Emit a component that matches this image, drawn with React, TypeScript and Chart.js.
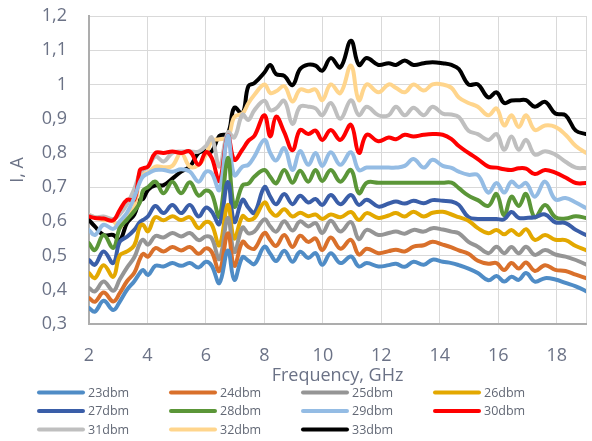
import React, { useEffect, useRef } from 'react';
import { Chart, registerables } from 'chart.js';

Chart.register(...registerables);

const freq = [2.0, 2.2, 2.5, 2.83, 3.05, 3.3, 3.55, 3.74, 3.85, 4.02, 4.27, 4.55, 4.85, 5.15, 5.45, 5.75, 6.0, 6.2, 6.46, 6.75, 6.97, 7.25, 7.45, 7.66, 8.0, 8.2, 8.4, 8.68, 8.96, 9.22, 9.5, 9.75, 9.98, 10.27, 10.6, 10.96, 11.23, 11.5, 11.9, 12.25, 12.5, 12.8, 13.1, 13.45, 13.75, 14.1, 14.4, 14.65, 14.98, 15.3, 15.66, 15.94, 16.2, 16.45, 16.7, 16.95, 17.25, 17.6, 17.95, 18.3, 18.65, 19.0];

const dbm23 = [0.347, 0.336, 0.368, 0.341, 0.365, 0.40, 0.425, 0.449, 0.458, 0.443, 0.47, 0.468, 0.478, 0.47, 0.478, 0.465, 0.482, 0.47, 0.42, 0.515, 0.429, 0.495, 0.485, 0.475, 0.526, 0.505, 0.484, 0.514, 0.482, 0.511, 0.493, 0.507, 0.473, 0.507, 0.478, 0.497, 0.468, 0.478, 0.468, 0.472, 0.476, 0.467, 0.482, 0.473, 0.488, 0.482, 0.478, 0.472, 0.462, 0.449, 0.428, 0.44, 0.424, 0.438, 0.429, 0.449, 0.424, 0.434, 0.43, 0.42, 0.41, 0.396];
const dbm24 = [0.376, 0.365, 0.392, 0.366, 0.39, 0.425, 0.45, 0.49, 0.505, 0.497, 0.522, 0.512, 0.525, 0.515, 0.525, 0.505, 0.521, 0.51, 0.455, 0.565, 0.47, 0.54, 0.525, 0.52, 0.566, 0.545, 0.528, 0.56, 0.525, 0.558, 0.54, 0.55, 0.516, 0.553, 0.52, 0.546, 0.503, 0.52, 0.507, 0.513, 0.517, 0.512, 0.526, 0.53, 0.54, 0.532, 0.524, 0.515, 0.505, 0.485, 0.476, 0.478, 0.458, 0.478, 0.462, 0.48, 0.455, 0.472, 0.458, 0.455, 0.444, 0.434];
const dbm25 = [0.405, 0.395, 0.424, 0.397, 0.43, 0.465, 0.495, 0.536, 0.546, 0.532, 0.557, 0.553, 0.566, 0.556, 0.566, 0.545, 0.556, 0.55, 0.49, 0.61, 0.51, 0.582, 0.565, 0.57, 0.606, 0.585, 0.57, 0.6, 0.573, 0.6, 0.585, 0.595, 0.566, 0.602, 0.57, 0.598, 0.548, 0.575, 0.56, 0.566, 0.57, 0.564, 0.575, 0.57, 0.58, 0.576, 0.57, 0.565, 0.54, 0.526, 0.507, 0.526, 0.507, 0.525, 0.507, 0.526, 0.502, 0.516, 0.503, 0.497, 0.487, 0.474];
const dbm26 = [0.449, 0.434, 0.472, 0.438, 0.5, 0.512, 0.53, 0.585, 0.59, 0.571, 0.612, 0.603, 0.615, 0.604, 0.612, 0.58, 0.598, 0.59, 0.53, 0.648, 0.55, 0.615, 0.604, 0.61, 0.655, 0.63, 0.616, 0.635, 0.614, 0.625, 0.615, 0.62, 0.607, 0.62, 0.612, 0.627, 0.604, 0.624, 0.61, 0.617, 0.624, 0.614, 0.628, 0.614, 0.625, 0.628, 0.62, 0.612, 0.602, 0.58, 0.565, 0.575, 0.562, 0.575, 0.56, 0.577, 0.546, 0.56, 0.546, 0.545, 0.528, 0.516];
const dbm27 = [0.487, 0.473, 0.512, 0.478, 0.54, 0.555, 0.575, 0.598, 0.604, 0.615, 0.645, 0.624, 0.648, 0.624, 0.648, 0.614, 0.64, 0.628, 0.592, 0.715, 0.598, 0.663, 0.64, 0.625, 0.70, 0.672, 0.65, 0.68, 0.65, 0.675, 0.655, 0.665, 0.648, 0.677, 0.65, 0.677, 0.648, 0.663, 0.643, 0.652, 0.658, 0.652, 0.66, 0.653, 0.662, 0.66, 0.658, 0.648, 0.612, 0.607, 0.607, 0.607, 0.606, 0.627, 0.61, 0.61, 0.612, 0.62, 0.597, 0.595, 0.575, 0.56];
const dbm28 = [0.536, 0.516, 0.56, 0.522, 0.58, 0.605, 0.63, 0.655, 0.69, 0.70, 0.716, 0.682, 0.716, 0.682, 0.714, 0.675, 0.69, 0.68, 0.614, 0.785, 0.643, 0.705, 0.71, 0.731, 0.75, 0.73, 0.711, 0.75, 0.713, 0.748, 0.716, 0.75, 0.718, 0.75, 0.716, 0.75, 0.682, 0.713, 0.713, 0.713, 0.713, 0.713, 0.713, 0.713, 0.713, 0.713, 0.713, 0.697, 0.675, 0.662, 0.645, 0.68, 0.618, 0.672, 0.645, 0.68, 0.612, 0.648, 0.612, 0.608, 0.615, 0.61];
const dbm29 = [0.575, 0.56, 0.59, 0.578, 0.60, 0.625, 0.67, 0.715, 0.731, 0.74, 0.75, 0.75, 0.745, 0.752, 0.745, 0.716, 0.745, 0.74, 0.692, 0.85, 0.735, 0.76, 0.765, 0.79, 0.838, 0.8, 0.778, 0.814, 0.75, 0.805, 0.765, 0.8, 0.762, 0.802, 0.765, 0.802, 0.75, 0.757, 0.757, 0.757, 0.757, 0.762, 0.782, 0.757, 0.78, 0.762, 0.756, 0.745, 0.736, 0.735, 0.684, 0.712, 0.684, 0.716, 0.70, 0.712, 0.672, 0.716, 0.664, 0.668, 0.655, 0.639];
const dbm30 = [0.614, 0.61, 0.608, 0.603, 0.633, 0.663, 0.663, 0.75, 0.755, 0.76, 0.8, 0.8, 0.804, 0.8, 0.804, 0.765, 0.802, 0.785, 0.718, 0.85, 0.78, 0.81, 0.835, 0.85, 0.91, 0.848, 0.906, 0.86, 0.808, 0.867, 0.855, 0.865, 0.838, 0.867, 0.838, 0.882, 0.80, 0.853, 0.834, 0.845, 0.84, 0.853, 0.848, 0.853, 0.855, 0.853, 0.84, 0.82, 0.80, 0.782, 0.76, 0.757, 0.752, 0.75, 0.755, 0.754, 0.738, 0.75, 0.742, 0.728, 0.712, 0.712];
const dbm31 = [0.619, 0.612, 0.614, 0.607, 0.62, 0.65, 0.695, 0.74, 0.75, 0.758, 0.79, 0.775, 0.80, 0.804, 0.804, 0.804, 0.82, 0.845, 0.76, 0.86, 0.845, 0.912, 0.896, 0.925, 0.952, 0.925, 0.93, 0.952, 0.885, 0.935, 0.935, 0.93, 0.91, 0.946, 0.90, 0.954, 0.91, 0.935, 0.91, 0.91, 0.935, 0.91, 0.932, 0.91, 0.935, 0.915, 0.912, 0.905, 0.865, 0.855, 0.838, 0.855, 0.809, 0.848, 0.809, 0.838, 0.795, 0.805, 0.795, 0.774, 0.757, 0.756];
const dbm32 = [0.619, 0.612, 0.604, 0.60, 0.58, 0.62, 0.64, 0.735, 0.74, 0.742, 0.76, 0.758, 0.762, 0.80, 0.76, 0.765, 0.795, 0.835, 0.84, 0.845, 0.905, 0.915, 0.945, 0.97, 1.0, 0.975, 0.98, 0.995, 0.95, 0.985, 0.98, 0.985, 0.954, 1.0, 0.975, 1.055, 0.954, 1.0, 0.977, 1.0, 0.99, 0.977, 1.0, 0.982, 1.0, 1.0, 0.99, 0.962, 0.946, 0.935, 0.91, 0.93, 0.88, 0.91, 0.876, 0.91, 0.867, 0.88, 0.876, 0.853, 0.82, 0.80];
const dbm33 = [0.604, 0.585, 0.56, 0.56, 0.545, 0.595, 0.62, 0.663, 0.665, 0.692, 0.705, 0.706, 0.725, 0.745, 0.76, 0.80, 0.806, 0.804, 0.85, 0.857, 0.932, 0.915, 0.995, 1.004, 1.035, 1.057, 1.03, 1.025, 0.998, 1.045, 1.058, 1.055, 1.04, 1.077, 1.05, 1.128, 1.057, 1.077, 1.057, 1.062, 1.057, 1.07, 1.057, 1.062, 1.065, 1.062, 1.057, 1.045, 1.0, 1.0, 0.962, 0.977, 0.946, 0.953, 0.954, 0.954, 0.935, 0.949, 0.915, 0.91, 0.865, 0.855];

const seriesNames = ['23dbm', '24dbm', '25dbm', '26dbm', '27dbm', '28dbm', '29dbm', '30dbm', '31dbm', '32dbm', '33dbm'];
const seriesColors = ['#4f8cc6', '#d9702b', '#959595', '#e3a800', '#3a5ea8', '#5b9638', '#94bce4', '#ff0000', '#bfbfbf', '#ffd58c', '#000000'];

const xTickValues = [2, 4, 6, 8, 10, 12, 14, 16, 18, 19];
const yTickValues = [0.3, 0.4, 0.5, 0.6, 0.7, 0.8, 0.9, 1.0, 1.1, 1.2];

const FONT = '"Open Sans", "Noto Sans", sans-serif';
const TEXT = '#6b7286';

export default function App() {
  const ref = useRef<HTMLCanvasElement>(null);

  useEffect(() => {
    document.body.style.margin = '0';
    const series = [dbm23, dbm24, dbm25, dbm26, dbm27, dbm28, dbm29, dbm30, dbm31, dbm32, dbm33];

    const legendPlugin = {
      id: 'gridLegend',
      afterDraw(chart: any) {
        const ctx = chart.ctx;
        const colX = [37, 169, 301, 433];
        const rowY = [392.5, 411, 429.5];
        ctx.save();
        chart.data.datasets.forEach((ds: any, i: number) => {
          const x = colX[i % 4];
          const y = rowY[Math.floor(i / 4)];
          ctx.strokeStyle = ds.borderColor;
          ctx.lineWidth = 4;
          ctx.lineCap = 'round';
          ctx.beginPath();
          ctx.moveTo(x + 2, y);
          ctx.lineTo(x + 46, y);
          ctx.stroke();
          ctx.fillStyle = '#626875';
          ctx.font = '12.5px ' + FONT;
          ctx.textBaseline = 'middle';
          ctx.textAlign = 'left';
          ctx.fillText(ds.label, x + 51, y + 0.5);
        });
        ctx.restore();
      },
    };

    const chart = new Chart(ref.current as HTMLCanvasElement, {
      type: 'line',
      data: {
        datasets: series.map((vals, i) => ({
          label: seriesNames[i],
          data: freq.map((f, j) => ({ x: f, y: vals[j] })),
          borderColor: seriesColors[i],
          backgroundColor: seriesColors[i],
          borderWidth: 4,
          pointRadius: 0,
          tension: 0.4,
          borderCapStyle: 'round',
          borderJoinStyle: 'round',
          fill: false,
        })),
      },
      options: {
        animation: false,
        responsive: false,
        layout: { padding: { top: 16, right: 6, left: 0, bottom: 0 } },
        plugins: {
          legend: { display: false },
          tooltip: { enabled: false },
        },
        scales: {
          x: {
            type: 'linear',
            min: 2,
            max: 19,
            afterBuildTicks: (scale: any) => {
              scale.ticks = xTickValues.map((v) => ({ value: v }));
            },
            afterFit: (scale: any) => {
              scale.height = 117;
              scale.paddingLeft = 0;
              scale.paddingRight = 0;
              scale.paddingTop = 0;
              scale.paddingBottom = 0;
            },
            ticks: {
              autoSkip: false,
              maxRotation: 0,
              padding: 21,
              color: TEXT,
              font: { family: FONT, size: 18 },
              callback: (v: any) => (v === 19 ? '' : String(v)),
            },
            grid: { color: '#d9d9d9', lineWidth: 1, drawTicks: false },
            border: { color: '#adadad', width: 2 },
            title: {
              display: true,
              text: 'Frequency, GHz',
              color: TEXT,
              font: { family: FONT, size: 18 },
              padding: { top: 0, bottom: 54 },
            },
          },
          y: {
            type: 'linear',
            min: 0.3,
            max: 1.2,
            afterBuildTicks: (scale: any) => {
              scale.ticks = yTickValues.map((v) => ({ value: v }));
            },
            afterFit: (scale: any) => {
              scale.width = 89;
              scale.paddingLeft = 0;
              scale.paddingRight = 0;
              scale.paddingTop = 0;
              scale.paddingBottom = 0;
            },
            ticks: {
              autoSkip: false,
              padding: 22,
              color: TEXT,
              font: { family: FONT, size: 18 },
              callback: (v: any) => String(Math.round(Number(v) * 10) / 10).replace('.', ','),
            },
            grid: { color: '#d9d9d9', lineWidth: 1, drawTicks: false },
            border: { color: '#adadad', width: 2 },
            title: {
              display: true,
              text: 'I, A',
              color: TEXT,
              font: { family: FONT, size: 18 },
              padding: { top: 7, bottom: 0 },
            },
          },
        },
      },
      plugins: [legendPlugin],
    } as any);

    return () => chart.destroy();
  }, []);

  return (
    <div style={{ width: 592, height: 441 }}>
      <canvas ref={ref} width={592} height={441} style={{ display: 'block' }} />
    </div>
  );
}
